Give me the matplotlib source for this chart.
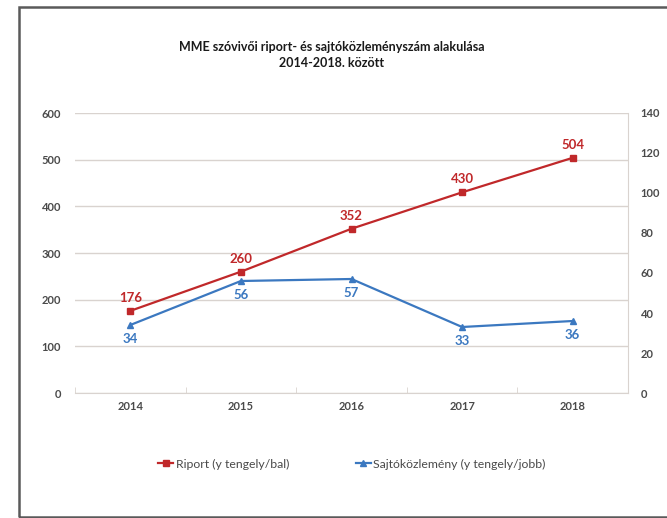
import matplotlib
matplotlib.use("Agg")
import matplotlib.pyplot as plt
from matplotlib.patches import Rectangle

plt.rcParams['font.family'] = ['Lato', 'DejaVu Sans']

years = ["2014", "2015", "2016", "2017", "2018"]
riport = [176, 260, 352, 430, 504]
sajto = [34, 56, 57, 33, 36]
left_ticks = [0, 100, 200, 300, 400, 500, 600]
right_ticks = [0, 20, 40, 60, 80, 100, 120, 140]

title = "MME szóvivői riport- és sajtóközleményszám alakulása\n2014-2018. között"
lab_r = "Riport (y tengely/bal)"
lab_s = "Sajtóközlemény (y tengely/jobb)"

red = "#c0282a"
blue = "#3b78c0"
grid_c = "#d9d3cf"
text_c = "#4a4a4a"

fig = plt.figure(figsize=(6.67, 5.18), dpi=100)
fig.patch.set_facecolor("white")
fig.add_artist(Rectangle((19/667, 1.5/518), 1.0, 1 - 8.5/518, transform=fig.transFigure,
                         fill=False, edgecolor="#5a5a5a", linewidth=1.8))

ax = fig.add_axes([75/667, 1 - 393/518, (628 - 75)/667, (393 - 113)/518])
ax2 = ax.twinx()

x = list(range(len(years)))
ax.set_xlim(-0.5, len(years) - 0.5)
ax.set_ylim(0, 600)
ax2.set_ylim(0, 140)
ax.set_yticks(left_ticks)
ax2.set_yticks(right_ticks)
ax.set_xticks(x)
ax.set_xticklabels(years)
ax.yaxis.grid(True, color=grid_c, linewidth=1.0)
ax.set_axisbelow(True)

for a in (ax, ax2):
    for s in a.spines.values():
        s.set_visible(False)
ax2.spines['right'].set_visible(True)
ax2.spines['right'].set_color(grid_c)
ax.spines['bottom'].set_visible(True)
ax.spines['bottom'].set_color(grid_c)

ax.tick_params(axis='y', length=0, labelsize=8, labelcolor=text_c, pad=10)
ax2.tick_params(axis='y', length=0, labelsize=8, labelcolor=text_c, pad=9)
ax.tick_params(axis='x', length=0, labelsize=8, labelcolor=text_c, pad=6)
for lbl in ax.get_xticklabels() + ax.get_yticklabels() + ax2.get_yticklabels():
    lbl.set_fontweight('bold')
ax.set_xticks([i - 0.5 for i in range(len(years) + 1)], minor=True)
ax.tick_params(axis='x', which='minor', length=4, color=grid_c, direction='in')

l1, = ax.plot(x, riport, color=red, marker='s', markersize=5, linewidth=1.6, label=lab_r, zorder=3)
l2, = ax2.plot(x, sajto, color=blue, marker='^', markersize=5, linewidth=1.6, label=lab_s, zorder=3)

for xi, v in zip(x, riport):
    ax.annotate(str(v), (xi, v), xytext=(0, 5), textcoords='offset points', ha='center', va='bottom',
                color=red, fontsize=9.5, fontweight='bold')
for xi, v in zip(x, sajto):
    ax2.annotate(str(v), (xi, v), xytext=(0, -6), textcoords='offset points', ha='center', va='top',
                 color=blue, fontsize=9.5, fontweight='bold')

fig.text(332/667, 1 - 55/518, title, ha='center', va='center', fontsize=9, fontweight='bold',
         color="#1a1a1a", linespacing=1.35)

leg = fig.legend([l1, l2], [lab_r, lab_s], loc='center', bbox_to_anchor=(352/667, 1 - 464/518),
                 ncol=2, frameon=False, fontsize=8.8, columnspacing=5.5, handlelength=1.2,
                 handletextpad=0.2, markerscale=0.8)
for t in leg.get_texts():
    t.set_color(text_c)

fig.savefig("out.png", dpi=100, facecolor="white")
